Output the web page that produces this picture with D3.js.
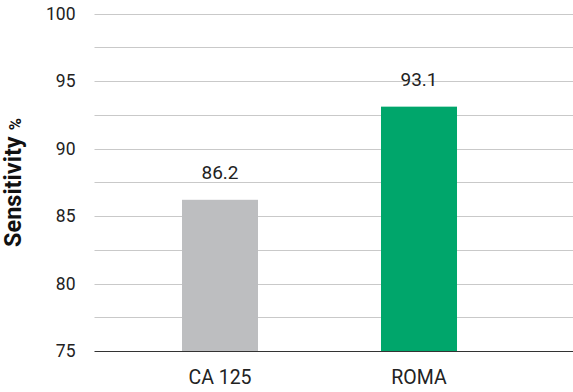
<!DOCTYPE html>
<html><head><meta charset="utf-8">
<script src="https://cdn.jsdelivr.net/npm/d3@7"></script>
<style>body{margin:0;background:#fff}svg{display:block}text{font-family:Roboto,"Noto Sans",sans-serif}</style>
</head><body>
<script>
const categories = ["CA 125", "ROMA"];
const values = [86.2, 93.1];
const labels = ["86.2", "93.1"];
const colors = ["#bdbec0", "#00a66b"];
const tickValues = [75, 80, 85, 90, 95, 100];
const gridValues = [75, 77.5, 80, 82.5, 85, 87.5, 90, 92.5, 95, 97.5, 100];

const W = 573, H = 392;
const svg = d3.select("body").append("svg").attr("width", W).attr("height", H);

const y = d3.scaleLinear().domain([75, 100]).range([351, 13.5]);
const x = d3.scaleBand().domain(categories).range([120.5, 518.5]).paddingInner(0.618).paddingOuter(0.309);
const left = 94.5, right = 573;

svg.append("g").selectAll("line").data(gridValues.filter(v => v !== 75)).join("line")
  .attr("x1", left).attr("x2", right)
  .attr("y1", d => Math.round(y(d)) + 0.5).attr("y2", d => Math.round(y(d)) + 0.5)
  .attr("stroke", "#c9c9c9").attr("stroke-width", 1);

svg.append("g").selectAll("rect").data(categories).join("rect")
  .attr("x", d => x(d)).attr("width", x.bandwidth())
  .attr("y", (d, i) => y(values[i])).attr("height", (d, i) => y(75) - y(values[i]))
  .attr("fill", (d, i) => colors[i]);

svg.append("line").attr("x1", left).attr("x2", right)
  .attr("y1", y(75) + 0.5).attr("y2", y(75) + 0.5).attr("stroke", "#333").attr("stroke-width", 1.2);

const yAxis = svg.append("g").attr("transform", `translate(${left},0)`)
  .call(d3.axisLeft(y).tickValues(tickValues).tickSize(0).tickPadding(19).tickFormat(d3.format("d")));
yAxis.select(".domain").remove();
yAxis.selectAll("text").attr("font-size", 17.5).attr("fill", "#222").attr("font-family", "Roboto");

const xAxis = svg.append("g").attr("transform", `translate(0,${y(75)})`)
  .call(d3.axisBottom(x).tickSize(0).tickPadding(19));
xAxis.select(".domain").remove();
xAxis.selectAll("text").attr("font-size", 19.5).attr("fill", "#222").attr("font-family", "Roboto");

svg.append("g").selectAll("text").data(categories).join("text")
  .attr("x", d => x(d) + x.bandwidth() / 2)
  .attr("y", (d, i) => y(values[i]) - 21)
  .attr("text-anchor", "middle").attr("font-size", 19).attr("fill", "#222")
  .text((d, i) => labels[i]);

const title = svg.append("text").attr("transform", "translate(21,247) rotate(-90)")
  .attr("text-anchor", "start").attr("fill", "#111")
  .attr("font-family", "'Liberation Sans', Arial, sans-serif");
title.append("tspan").attr("font-size", 23.5).attr("font-weight", "bold").text("Sensitivity");
title.append("tspan").attr("font-size", 16.5).attr("font-weight", "bold").attr("dx", 6).text("%");
</script>
</body></html>
